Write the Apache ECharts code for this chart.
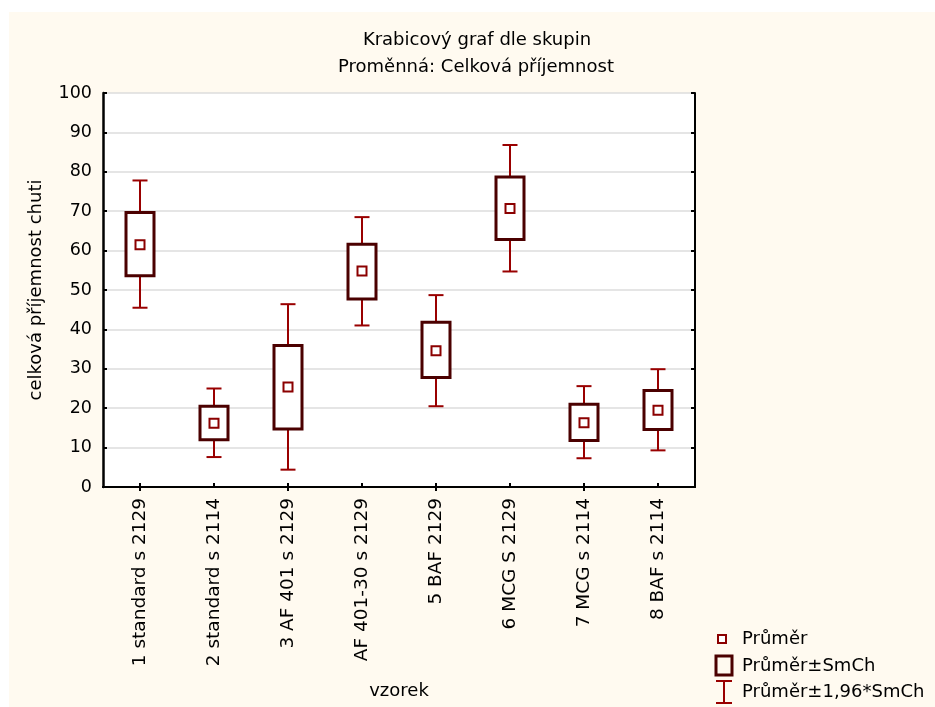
<!DOCTYPE html>
<html>
<head>
<meta charset="utf-8">
<title>Krabicový graf dle skupin</title>
<script src="https://cdn.jsdelivr.net/npm/echarts@6/dist/echarts.min.js"></script>
<style>
  html, body { margin: 0; padding: 0; background: #ffffff; }
  #chart { width: 935px; height: 707px; }
</style>
</head>
<body>
<div id="chart"></div>
<script>
// Groups (vzorek)
const categories = [
  '1 standard s 2129',
  '2 standard s 2114',
  '3 AF 401 s 2129',
  'AF 401-30 s 2129',
  '5 BAF 2129',
  '6 MCG S 2129',
  '7 MCG s 2114',
  '8 BAF s 2114'
];
// Mean of "celková příjemnost chuti" per group
const means      = [61.5, 16.2, 25.4, 54.8, 34.6, 70.7, 16.3, 19.5];
// Mean ± standard error (box)
const seLow      = [53.6, 12.0, 14.7, 47.7, 27.8, 62.8, 11.8, 14.6];
const seHigh     = [69.7, 20.5, 35.9, 61.6, 41.8, 78.7, 21.0, 24.5];
// Mean ± 1.96 * standard error (whiskers)
const ciLow      = [45.5,  7.6,  4.4, 41.0, 20.5, 54.7,  7.3,  9.3];
const ciHigh     = [77.8, 25.0, 46.4, 68.5, 48.7, 86.8, 25.6, 29.9];
// Value axis ticks
const yTicks = { min: 0, max: 100, interval: 10 };

const FONT = 'DejaVu Sans';
const WHISKER = '#990000';
const BOXLINE = '#4B0000';
const MEANCOL = '#8B0000';

const whiskerData = categories.map((c, i) => [i, ciLow[i], ciHigh[i]]);
const boxData = categories.map((c, i) => [i, seLow[i], seHigh[i]]);
const meanData = categories.map((c, i) => [i, means[i]]);

function renderWhisker(params, api) {
  const x = api.value(0);
  const lo = api.coord([x, api.value(1)]);
  const hi = api.coord([x, api.value(2)]);
  const cx = Math.round(lo[0]);
  const cap = 7.5;
  const st = { stroke: WHISKER, lineWidth: 2 };
  return {
    type: 'group',
    children: [
      { type: 'line', shape: { x1: cx, y1: hi[1], x2: cx, y2: lo[1] }, style: st },
      { type: 'line', shape: { x1: cx - cap, y1: hi[1], x2: cx + cap, y2: hi[1] }, style: st },
      { type: 'line', shape: { x1: cx - cap, y1: lo[1], x2: cx + cap, y2: lo[1] }, style: st }
    ]
  };
}

function renderBox(params, api) {
  const x = api.value(0);
  const lo = api.coord([x, api.value(1)]);
  const hi = api.coord([x, api.value(2)]);
  const cx = Math.round(lo[0]);
  const half = 14;
  return {
    type: 'rect',
    shape: { x: cx - half, y: hi[1], width: half * 2, height: lo[1] - hi[1] },
    style: { fill: '#ffffff', stroke: BOXLINE, lineWidth: 3 }
  };
}

const chart = echarts.init(document.getElementById('chart'), null, { renderer: 'canvas' });

const legendText = (y, text) => ({
  type: 'text', x: 742, y: y,
  style: { text: text, font: '18px "' + FONT + '"', fill: '#000', verticalAlign: 'middle' }
});

chart.setOption({
  backgroundColor: '#FFFAF0',
  animation: false,
  textStyle: { fontFamily: FONT },
  grid: {
    left: 103, right: 240, top: 93, bottom: 220,
    show: true, backgroundColor: '#ffffff', borderWidth: 0
  },
  graphic: [
    // white page margins around the cream panel
    { type: 'rect', left: 0, top: 0, shape: { width: 935, height: 12 }, style: { fill: '#ffffff' }, silent: true },
    { type: 'rect', left: 0, top: 0, shape: { width: 9, height: 707 }, style: { fill: '#ffffff' }, silent: true },
    // title
    { type: 'text', x: 477, y: 40, style: { text: 'Krabicový graf dle skupin', font: '18px "' + FONT + '"', fill: '#000', align: 'center', verticalAlign: 'middle' } },
    { type: 'text', x: 476, y: 67, style: { text: 'Proměnná: Celková příjemnost', font: '18px "' + FONT + '"', fill: '#000', align: 'center', verticalAlign: 'middle' } },
    // legend
    { type: 'rect', shape: { x: 718, y: 635, width: 8, height: 8 }, style: { fill: '#fff', stroke: MEANCOL, lineWidth: 2 } },
    { type: 'rect', shape: { x: 716, y: 656, width: 16, height: 19 }, style: { fill: 'none', stroke: BOXLINE, lineWidth: 3 } },
    { type: 'line', shape: { x1: 716, y1: 681, x2: 732, y2: 681 }, style: { stroke: WHISKER, lineWidth: 2 } },
    { type: 'line', shape: { x1: 724, y1: 681, x2: 724, y2: 703 }, style: { stroke: WHISKER, lineWidth: 2 } },
    { type: 'line', shape: { x1: 716, y1: 703, x2: 732, y2: 703 }, style: { stroke: WHISKER, lineWidth: 2 } },
    legendText(639, 'Průměr'),
    legendText(666, 'Průměr±SmCh'),
    legendText(692, 'Průměr±1,96*SmCh')
  ],
  xAxis: [
    {
      type: 'category',
      data: categories,
      position: 'bottom',
      boundaryGap: true,
      name: 'vzorek',
      nameLocation: 'middle',
      nameGap: 195,
      nameTextStyle: { fontSize: 18, color: '#000', fontFamily: FONT },
      axisLine: { show: true, lineStyle: { color: '#000', width: 2 } },
      axisTick: { show: true, inside: true, alignWithLabel: true, length: 4, lineStyle: { color: '#000', width: 2 } },
      axisLabel: { rotate: 90, fontSize: 18.5, color: '#000', fontFamily: FONT, margin: 11, interval: 0 },
      splitLine: { show: false }
    },
    {
      type: 'category',
      data: categories,
      position: 'top',
      boundaryGap: true,
      axisLine: { show: true, lineStyle: { color: '#000', width: 2 } },
      axisTick: { show: true, inside: true, alignWithLabel: true, length: 4, lineStyle: { color: '#000', width: 2 } },
      axisLabel: { show: false },
      splitLine: { show: false }
    }
  ],
  yAxis: [
    {
      type: 'value',
      min: yTicks.min, max: yTicks.max, interval: yTicks.interval,
      position: 'left',
      name: 'celková příjemnost chuti',
      nameLocation: 'middle',
      nameGap: 58,
      nameTextStyle: { fontSize: 18, color: '#000', fontFamily: FONT },
      axisLine: { show: true, lineStyle: { color: '#000', width: 2.5 } },
      axisTick: { show: true, inside: true, length: 4, lineStyle: { color: '#000', width: 2 } },
      axisLabel: { fontSize: 17.5, color: '#000', fontFamily: FONT, margin: 11 },
      splitLine: { show: true, lineStyle: { color: '#DCDCDC', width: 1.5 } }
    },
    {
      type: 'value',
      min: yTicks.min, max: yTicks.max, interval: yTicks.interval,
      position: 'right',
      axisLine: { show: true, lineStyle: { color: '#000', width: 2 } },
      axisTick: { show: true, inside: true, length: 4, lineStyle: { color: '#000', width: 2 } },
      axisLabel: { show: false },
      splitLine: { show: false }
    }
  ],
  series: [
    {
      name: 'Průměr±1,96*SmCh',
      type: 'custom',
      renderItem: renderWhisker,
      encode: { x: 0, y: [1, 2] },
      data: whiskerData,
      z: 2
    },
    {
      name: 'Průměr±SmCh',
      type: 'custom',
      renderItem: renderBox,
      encode: { x: 0, y: [1, 2] },
      data: boxData,
      z: 3
    },
    {
      name: 'Průměr',
      type: 'scatter',
      symbol: 'rect',
      symbolSize: 9,
      itemStyle: { color: '#ffffff', borderColor: MEANCOL, borderWidth: 2, opacity: 1 },
      data: meanData,
      z: 4
    }
  ]
});
</script>
</body>
</html>
